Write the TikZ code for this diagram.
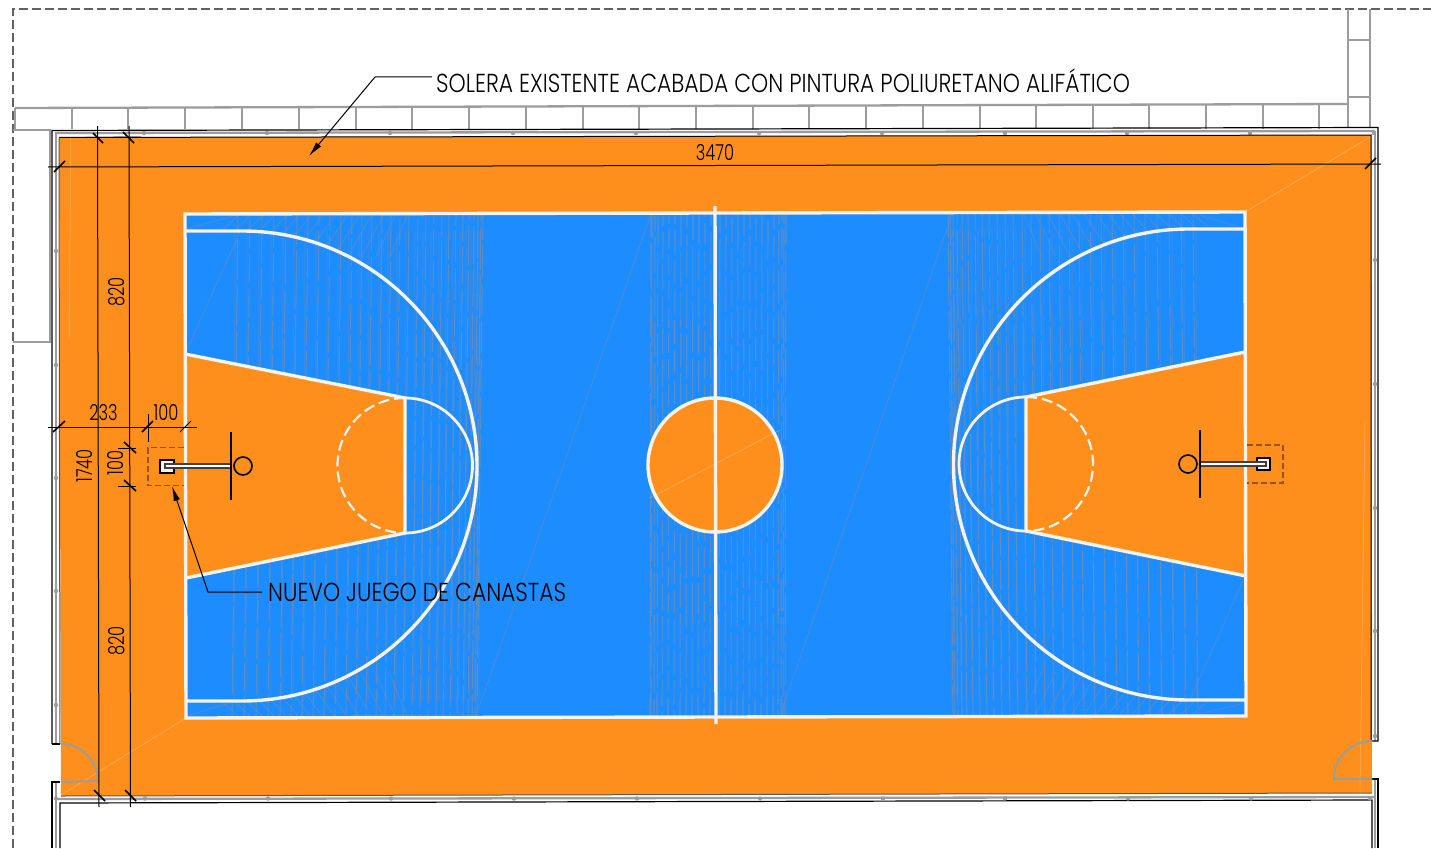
\documentclass[tikz,border=0pt]{standalone}
\usepackage{fontspec}
\setmainfont{Poppins}[UprightFont=* Light,FakeStretch=0.84]
\newfontfamily\dimfont{Poppins}[UprightFont=* Light,FakeStretch=0.74]
\usetikzlibrary{arrows.meta}
\definecolor{orangeC}{HTML}{FF8F1C}
\definecolor{blueC}{HTML}{1C8CFF}
\definecolor{lineC}{HTML}{F6F2EC}
\definecolor{wallC}{HTML}{9C9C9C}
\definecolor{hatchC}{HTML}{7F8FA6}
\tikzset{
  x=1pt,y=-1pt,
  wallgray/.style={draw=wallC,line width=2.3pt},
  wallblack/.style={draw=black,line width=1.2pt},
  wallDot/.style={fill=wallC,draw=none},
  outerdash/.style={draw=black!62,line width=2pt,dash pattern=on 9pt off 4pt},
  courtline/.style={draw=lineC,line width=3.4pt},
  thinhatch/.style={draw=hatchC,line width=1.1pt,opacity=0.6},
  faintgray/.style={draw=hatchC,line width=0.6pt,opacity=0.6},
  faintwhite/.style={draw=white,line width=0.5pt,opacity=0.3},
  dimline/.style={draw=black,line width=1pt},
  dimtick/.style={draw=black,line width=1.6pt},
  dimtxt/.style={inner sep=0pt,font=\dimfont\fontsize{22}{22}\selectfont},
  calltxt/.style={inner sep=0pt,anchor=west,font=\fontsize{26}{26}\selectfont},
  callout/.style={draw=black,line width=1pt,-{Latex[length=15pt,width=6.5pt]}},
  holedash/.style={draw=black!42!orangeC,line width=1.2pt,dash pattern=on 6pt off 3pt},
}
\begin{document}
\begin{tikzpicture}
\useasboundingbox (0,0) rectangle (1431,848);
\fill[white] (0,0) rectangle (1431,848);

% outer dashed limit
\draw[outerdash] (13,848) -- (13,9) -- (1431,9);
\draw[wallgray] (13,130) -- (50,130) -- (50,342) -- (13,342);

% block row
\draw[wallgray] (15,108) -- (15,129);
\draw[wallgray] (15,108) -- (1347,104);
\draw[wallgray] (14,130) -- (51,130);
\foreach \bx/\bt in {72/108,128/108,185/108,242/107,299/107,356/107,412/107,469/107,526/106,583/106,639/106,696/106,753/106,809/106,866/105,923/105,980/105,1036/105,1093/105,1149/105,1206/105,1263/105,1319/105}
  \draw[wallgray] (\bx,\bt) -- (\bx,129);
\draw[wallgray] (1348,9) -- (1348,127);
\draw[wallgray] (1370,9) -- (1370,127);
\draw[wallgray] (1348,40) -- (1370,40);
\draw[wallgray] (1348,97) -- (1370,97);

% walls
\draw[wallgray] (56,133) -- (56,744);
\draw[wallgray] (56,782) -- (56,848);
\draw[wallgray] (55,133) -- (1375,131);
\draw[wallgray] (1375,131) -- (1375,741);
\draw[wallgray] (1375,779) -- (1375,848);
\draw[wallgray] (56,799) -- (1375,797);
\draw[wallblack] (52,744) -- (52,130.5) -- (1378,127.5) -- (1378,741) -- (1372,741);
\draw[wallblack] (1372,779) -- (1378,779) -- (1378,848);
\draw[wallblack] (52,744) -- (60,744);
\draw[wallblack] (60,782) -- (52,782) -- (52,848);
\draw[wallblack] (60,848) -- (60,803) -- (1372,800) -- (1372,848);
\foreach \dx in {144,267,390,513,636,759,882,1005,1127,1250,1374}
  \fill[wallDot] (\dx,133) circle[radius=2.2pt];
\foreach \dx in {56,145,268,391,514,637,760,883,1005,1128,1251,1370}
  \fill[wallDot] (\dx,798.5) circle[radius=2.2pt];
\foreach \dy in {251,365,478,591,705}
  \fill[wallDot] (56,\dy) circle[radius=2.2pt];
\foreach \dy in {260,384,508,631,736}
  \fill[wallDot] (1375,\dy) circle[radius=2.2pt];

% orange floor
\fill[orangeC] (59,137.5) -- (1371,135) -- (1372,793) -- (61,796) -- cycle;
\draw[black,line width=1pt] (59,137.5) -- (1371,135) -- (1371,741);
\draw[black!65,line width=1pt] (61,796) -- (1372,793);
\draw[black!65,line width=1pt] (59,137.5) -- (60,744);
\draw[faintwhite] (71,137) -- (69,340);
\draw[faintwhite] (1365,420) -- (1360,793);
\draw[faintwhite] (61,795) -- (186,718);
\draw[faintwhite] (1245,212) -- (1370,137);

% doors
\draw[wallC,line width=2pt] (61,744) arc[start angle=90,end angle=0,radius=37pt] -- (61,782);
\draw[wallC,line width=2pt] (1372,741) arc[start angle=90,end angle=180,radius=38pt] -- (1372,779);

% blue court
\fill[blueC] (185,214) -- (1245,212) -- (1246,716) -- (186,718) -- cycle;

% hatching
\pgfmathsetseed{7}
\begin{scope}
\clip (185,214) -- (1245,212) -- (1246,716) -- (186,718) -- cycle;
\foreach \hx in {238,250,262,274,286,297,308,319,330,341,352,362,372,382,391,400,409,418,426,434,442,449,456,463,469,474,478,481,483}{
  \pgfmathsetmacro{\hph}{random(0,40)}
  \pgfmathsetmacro{\hln}{random(24,60)}
  \draw[thinhatch,dash pattern=on \hln pt off 5pt,dash phase=\hph pt] (\hx,214) -- ({\hx-6},718);
  \draw[thinhatch,opacity=.3] ({\hx-3},231) -- ({\hx-4},700);
}
\foreach \hx in {1193,1181,1169,1157,1145,1134,1123,1112,1101,1090,1079,1069,1059,1049,1040,1031,1022,1013,1005,997,989,982,975,968,962,957,953,950,948}{
  \pgfmathsetmacro{\hph}{random(0,40)}
  \pgfmathsetmacro{\hln}{random(24,60)}
  \draw[thinhatch,dash pattern=on \hln pt off 5pt,dash phase=\hph pt] (\hx,212) -- ({\hx+5},716);
  \draw[thinhatch,opacity=.3] ({\hx+3},229) -- ({\hx+4},700);
}
\foreach \hx in {651,652,655,658,663,669,675,681,687,693,699,705,711,720,726,732,738,744,750,756,762,768,774,779,782,784,786}{
  \pgfmathsetmacro{\hph}{random(0,40)}
  \pgfmathsetmacro{\hln}{random(18,50)}
  \draw[thinhatch,dash pattern=on \hln pt off 6pt,dash phase=\hph pt] (\hx,214) -- ({\hx-1},718);
}
% slanted hatching outside the three-point arcs
\begin{scope}[even odd rule]
\clip (180,205) rectangle (1250,725) (242,466) circle[radius=235pt] (1189,464) circle[radius=235pt];
\foreach \sx in {212,224,236,248,260,272,284,296,308,320,332,344,356,368,380}{
  \pgfmathsetmacro{\sa}{(480-\sx)/240*45}
  \draw[faintgray] ({\sx+28},214) -- ({\sx+28-\sa},259);
  \draw[faintgray] ({\sx+28},718) -- ({\sx+28-\sa},673);
  \draw[faintgray] ({1403-\sx},212) -- ({1403-\sx+\sa},257);
  \draw[faintgray] ({1403-\sx},716) -- ({1403-\sx+\sa},671);
}
\end{scope}
\end{scope}
% faint diagonals on the court
\draw[faintgray] (186,229) -- (240,214);
\draw[faintgray] (185,354) -- (240,232);
\draw[faintgray] (186,716) -- (240,700);
\draw[faintgray] (476,716) -- (651,214);
\draw[faintgray] (780,716) -- (952,214);
\draw[faintgray] (1245,576) -- (1190,700);
\draw[faintgray] (1245,703) -- (1190,716);
\draw[faintgray] (1245,229) -- (1190,212);

% keys
\fill[orangeC] (185,354) -- (405,398) -- (405,533) -- (186,578) -- cycle;
\fill[orangeC] (1245,352) -- (1026,397) -- (1026,531) -- (1246,576) -- cycle;

% court lines
\draw[courtline] (185,214) -- (1245,212) -- (1246,716) -- (186,718) -- cycle;
\draw[courtline] (185,231) -- (242,231) arc[start angle=90,end angle=-90,radius=235pt] -- (186,701);
\draw[courtline] (1245,229) -- (1189,229) arc[start angle=90,end angle=270,radius=235.5pt] -- (1246,700);
\draw[courtline] (185,354) -- (405,398) -- (405,533) -- (186,578);
\draw[courtline] (1245,352) -- (1026,397) -- (1026,531) -- (1246,576);
\draw[courtline,line width=2.8pt] (405,398) arc[start angle=90,end angle=-90,radius=67.5pt];
\draw[courtline,line width=2.8pt] (1026,397) arc[start angle=90,end angle=270,radius=67pt];
\draw[courtline,line width=2.2pt,dash pattern=on 11pt off 5pt] (405,398) arc[start angle=90,end angle=270,radius=67.5pt];
\draw[courtline,line width=2.2pt,dash pattern=on 11pt off 5pt] (1026,397) arc[start angle=90,end angle=-90,radius=67pt];
\draw[courtline,fill=orangeC] (715,465) circle[radius=67pt];
\draw[faintwhite] (650,498) -- (780,430);
\draw[courtline] (715,206) -- (716,724);

% left basket
\draw[holedash] (184,447.5) -- (148,447.5) -- (148,485.5) -- (184,485.5);
\draw[black,line width=1.2pt,fill=lineC] (160,460) rectangle (174,473);
\draw[black!75,line width=1.1pt,fill=white] (232,464) -- (165,464) -- (165,468) -- (232,468);
\draw[black,line width=1.8pt] (231,432) -- (231,500);
\draw[black,line width=1.6pt] (243,466) circle[radius=9pt];
% right basket
\draw[holedash] (1247,445) -- (1283,445) -- (1283,483) -- (1247,483);
\draw[black,line width=1.2pt,fill=lineC] (1257,458) rectangle (1270,470);
\draw[black!75,line width=1.1pt,fill=white] (1199,462) -- (1266,462) -- (1266,466) -- (1199,466);
\draw[black,line width=1.8pt] (1200,430) -- (1200,498);
\draw[black,line width=1.6pt] (1188,464) circle[radius=9pt];

% dimensions
\draw[dimline] (48,167) -- (1381,164);
\draw[dimtick] (54,172) -- (65,161);
\draw[dimtick] (1365,169) -- (1376,158);
\node[dimtxt] (d3470) at (715,153) {3470};

\draw[dimline] (97.5,126) -- (99,807);
\draw[dimline] (129,126) -- (130.5,807);
\draw[dimtick] (93,133) -- (103,143);
\draw[dimtick] (123,132) -- (134,143);
\draw[dimtick] (94,790) -- (105,801);
\draw[dimtick] (125,790) -- (136,801);
\draw[dimline] (86,137.5) -- (141,137);

\draw[dimline] (48,427) -- (197,427);
\draw[dimline] (148,414) -- (148,442);
\draw[dimtick] (53,432) -- (65,421);
\draw[dimtick] (142,432) -- (153,421);
\draw[dimline] (180,432) -- (191,421);
\draw[dimline] (118,448) -- (136,448);
\draw[dimline] (118,486) -- (136,486);
\draw[dimtick] (124,442) -- (136,453);
\draw[dimtick] (124,480) -- (136,491);

\node[dimtxt] (d233) at (103.5,413) {233};
\node[dimtxt] (d100a) at (166,412.5) {100};
\node[dimtxt,rotate=90] (d1740) at (85,466) {1740};
\node[dimtxt,rotate=90] (d100b) at (116,463) {100};
\node[dimtxt,rotate=90] (d820a) at (117,292) {820};
\node[dimtxt,rotate=90] (d820b) at (117,641) {820};

% callouts
\node[calltxt] (solera) at (436,80.5) {SOLERA EXISTENTE ACABADA CON PINTURA POLIURETANO ALIFÁTICO};
\node[calltxt] (canastas) at (268,592) {NUEVO JUEGO DE CANASTAS};
\coordinate (solTip) at (309,156);
\coordinate (canTip) at (172,486);
\draw[callout] ([xshift=-4pt,yshift=3.5pt]solera.west) -- (375,77) -- (solTip);
\draw[callout] ([xshift=-6pt]canastas.west) -- (208,592) -- (canTip);
\end{tikzpicture}
\end{document}
